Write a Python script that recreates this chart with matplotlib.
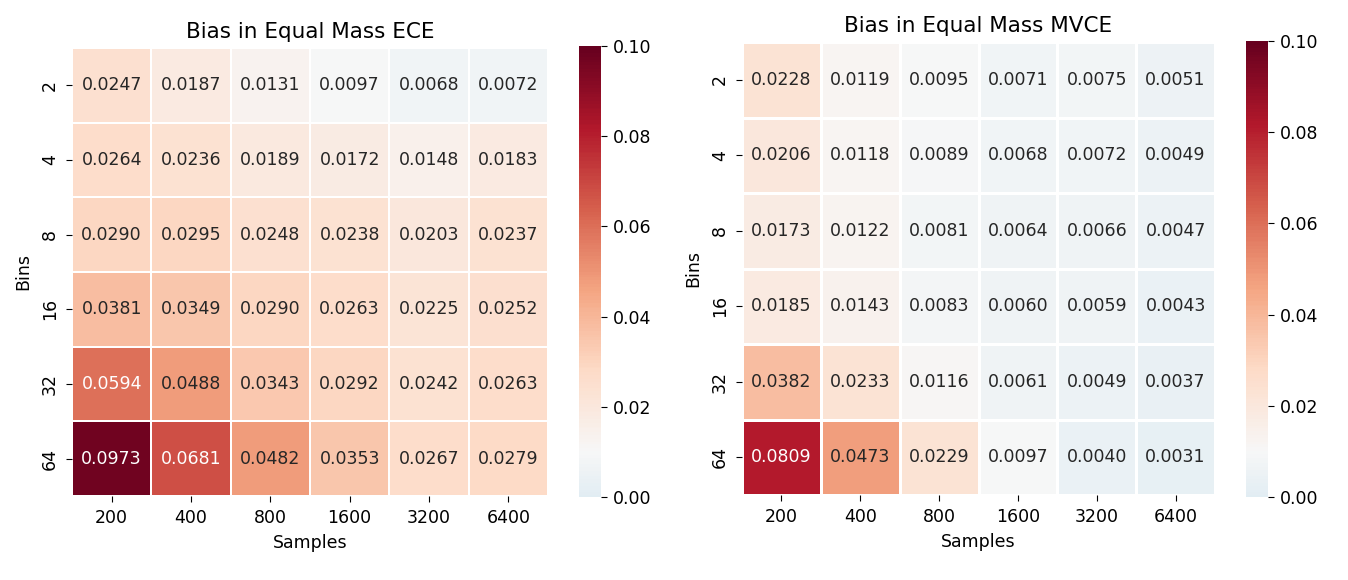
import matplotlib
matplotlib.use("Agg")
import matplotlib.pyplot as plt
import numpy as np
import seaborn as sns

samples = [200, 400, 800, 1600, 3200, 6400]
bins = [2, 4, 8, 16, 32, 64]

ece_bias = [
    [0.0247, 0.0187, 0.0131, 0.0097, 0.0068, 0.0072],
    [0.0264, 0.0236, 0.0189, 0.0172, 0.0148, 0.0183],
    [0.0290, 0.0295, 0.0248, 0.0238, 0.0203, 0.0237],
    [0.0381, 0.0349, 0.0290, 0.0263, 0.0225, 0.0252],
    [0.0594, 0.0488, 0.0343, 0.0292, 0.0242, 0.0263],
    [0.0973, 0.0681, 0.0482, 0.0353, 0.0267, 0.0279],
]
mvce_bias = [
    [0.0228, 0.0119, 0.0095, 0.0071, 0.0075, 0.0051],
    [0.0206, 0.0118, 0.0089, 0.0068, 0.0072, 0.0049],
    [0.0173, 0.0122, 0.0081, 0.0064, 0.0066, 0.0047],
    [0.0185, 0.0143, 0.0083, 0.0060, 0.0059, 0.0043],
    [0.0382, 0.0233, 0.0116, 0.0061, 0.0049, 0.0037],
    [0.0809, 0.0473, 0.0229, 0.0097, 0.0040, 0.0031],
]

W, H = 1348, 580
FS = 12.5


def px_axes(fig, x0, y0, x1, y1):
    # pixel box (top-left origin) -> figure fraction axes
    return fig.add_axes([x0 / W, (H - y1) / H, (x1 - x0) / W, (y1 - y0) / H])


fig = plt.figure(figsize=(W / 100, H / 100), dpi=100)
panels = [
    (ece_bias, "Bias in Equal Mass ECE", (72, 48, 548, 496), (579, 46, 601, 497), 1.3),
    (mvce_bias, "Bias in Equal Mass MVCE", (742, 42, 1215, 495), (1246, 41, 1268, 497), 1.0),
]
for data, title, hbox, cbox, lw in panels:
    ax = px_axes(fig, *hbox)
    cax = px_axes(fig, *cbox)
    sns.heatmap(np.array(data), ax=ax, cbar_ax=cax, cmap="RdBu_r", vmin=0, vmax=0.1,
                center=0.01, annot=True, fmt=".4f", linewidths=lw, linecolor="white",
                xticklabels=samples, yticklabels=bins, annot_kws={"fontsize": FS})
    ax.set_title(title, fontsize=15.5, pad=7)
    ax.set_xlabel("Samples", fontsize=FS, labelpad=5)
    ax.set_ylabel("Bins", fontsize=FS, labelpad=6)
    ax.tick_params(labelsize=FS, length=4.5, pad=5)
    cax.tick_params(labelsize=FS, length=4.5, pad=4)
    cax.set_yticks([0, 0.02, 0.04, 0.06, 0.08, 0.10])
    cax.set_yticklabels(["0.00", "0.02", "0.04", "0.06", "0.08", "0.10"])

fig.savefig("out.png", dpi=100)
